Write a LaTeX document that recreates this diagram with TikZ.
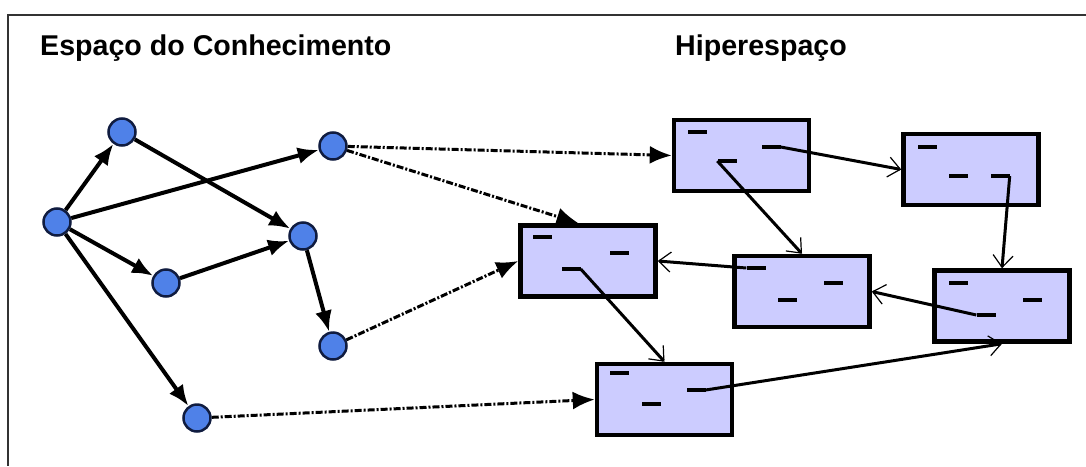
\documentclass[tikz,border=0pt]{standalone}
\usepackage{fontspec}
\setmainfont{Liberation Sans}
\usetikzlibrary{arrows.meta}

\definecolor{nodeblue}{RGB}{79,129,232}
\definecolor{nodeedge}{RGB}{16,28,64}
\definecolor{boxfill}{RGB}{204,204,255}

\tikzset{
  knode/.style={circle, draw=nodeedge, fill=nodeblue, line width=2.5pt, minimum size=27pt, inner sep=0pt},
  hbox/.style={rectangle, draw=black, fill=boxfill, line width=4.5pt, minimum width=135pt, minimum height=71pt, inner sep=0pt},
  hbar/.style={rectangle, fill=black, minimum width=19pt, minimum height=4pt, inner sep=0pt},
  kedge/.style={line width=4pt, -{Latex[length=21pt,width=17pt]}},
  hlink/.style={line width=3pt, -{Straight Barb[length=12pt,width=20pt,line width=1.2pt]}},
  maplink/.style={line width=3pt, dash pattern=on 7pt off 2pt on 2pt off 2pt, -{Latex[length=22pt,width=18pt]}},
  title/.style={font=\fontsize{28.6}{34}\selectfont\bfseries, anchor=base west, inner sep=0pt}
}

\begin{document}
\begin{tikzpicture}[x=1pt,y=-1pt]
    \useasboundingbox (0,0) rectangle (1086,466);
    \draw[line width=2pt, black!80] (1086,15) -- (8,15) -- (8,466);

    % titles
    \node[title] (kn_title) at (40,55) {Espaço do Conhecimento};
    \node[title] (hs_title) at (675,55) {Hiperespaço};

    % knowledge space
    \node[knode] (ka) at (57,222) {};
    \node[knode] (kb) at (122,132) {};
    \node[knode] (kc) at (333,146) {};
    \node[knode] (kd) at (303,236) {};
    \node[knode] (ke) at (166,283) {};
    \node[knode] (kf) at (333,346) {};
    \node[knode] (kg) at (197,418) {};

    \draw[kedge] (ka) -- (kb);
    \draw[kedge] (ka) -- (kc);
    \draw[kedge] (ka) -- (ke);
    \draw[kedge] (ka) -- (kg);
    \draw[kedge] (kb) -- (kd);
    \draw[kedge] (ke) -- (kd);
    \draw[kedge] (kd) -- (kf);

    % hyperspace
    \node[hbox] (r1) at (741.5,155.5) {};
    \node[hbox] (r2) at (588,261) {};
    \node[hbox] (r3) at (971,169.5) {};
    \node[hbox] (r4) at (802,291.5) {};
    \node[hbox] (r5) at (664.5,399.5) {};
    \node[hbox] (r6) at (1002,306) {};

    \node[hbar] (r1a) at (697,132) {};
    \node[hbar] (r1b) at (771,147) {};
    \node[hbar] (r1c) at (727,161) {};
    \node[hbar] (r2a) at (542,237) {};
    \node[hbar] (r2b) at (619,253) {};
    \node[hbar] (r2c) at (571,269) {};
    \node[hbar] (r3a) at (927,147) {};
    \node[hbar] (r3b) at (958,176) {};
    \node[hbar] (r3c) at (1000,176) {};
    \node[hbar] (r4a) at (756,268) {};
    \node[hbar] (r4b) at (833,283) {};
    \node[hbar] (r4c) at (787,300) {};
    \node[hbar] (r5a) at (619,373) {};
    \node[hbar] (r5b) at (651,404) {};
    \node[hbar] (r5c) at (696,390) {};
    \node[hbar] (r6a) at (958,283) {};
    \node[hbar] (r6b) at (1032,300) {};
    \node[hbar] (r6c) at (986,315) {};

    \draw[hlink] (r1c.west) -- (r4.north);
    \draw[hlink] (r1b.east) -- (r3.west);
    \draw[hlink] (r3c.east) -- (r6.north);
    \draw[hlink] (r6c.west) -- (r4.east);
    \draw[hlink] (r4a.west) -- (r2.east);
    \draw[hlink] (r2c.east) -- (r5.north);
    \draw[hlink] (r5c.east) -- (r6.south);

    % mapping
    \draw[maplink] (kc) -- (r1.west);
    \draw[maplink] (kc) -- (r2.104);
    \draw[maplink] (kf) -- (r2.west);
    \draw[maplink] (kg) -- (r5.west);

\end{tikzpicture}
\end{document}
